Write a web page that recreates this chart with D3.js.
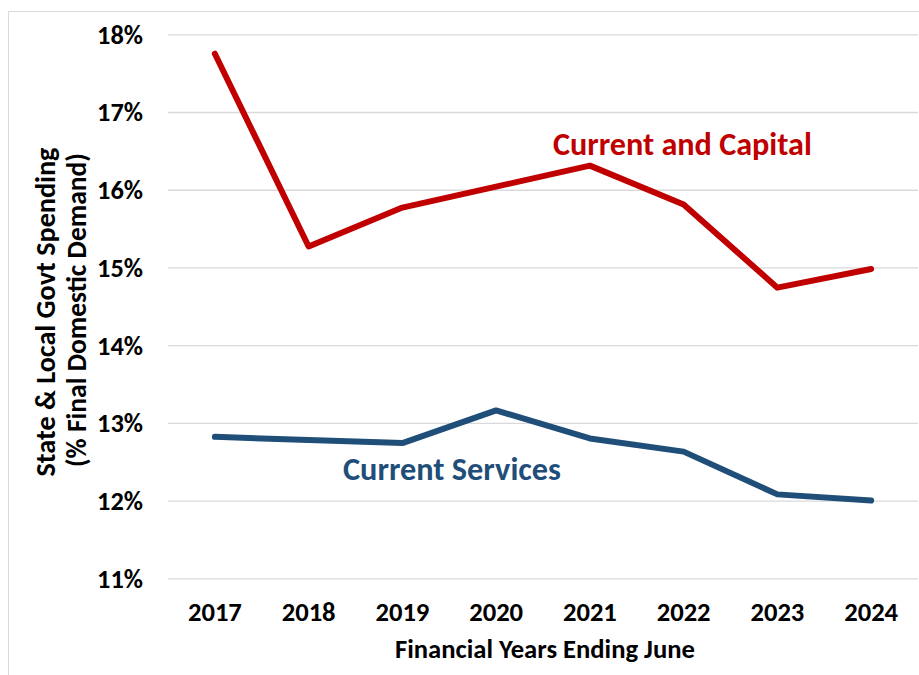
<!DOCTYPE html>
<html>
<head>
<meta charset="utf-8">
<script src="https://cdn.jsdelivr.net/npm/d3@7/dist/d3.min.js"></script>
<style>
  html, body { margin: 0; padding: 0; background: #fff; }
  svg { display: block; font-family: Carlito, Calibri, "Liberation Sans", Arial, sans-serif; font-weight: bold; }
</style>
</head>
<body>
<svg id="chart" width="919" height="675"></svg>
<script>
// Financial years (ending June)
const years = ["2017", "2018", "2019", "2020", "2021", "2022", "2023", "2024"];
// State & local government spending, % of final domestic demand
const currentAndCapital = [17.75, 15.27, 15.77, 16.04, 16.31, 15.81, 14.74, 14.98];
const currentServices   = [12.82, 12.78, 12.74, 13.16, 12.80, 12.63, 12.08, 12.00];
const yTicks = [11, 12, 13, 14, 15, 16, 17, 18];

const svg = d3.select("#chart");
const plot = { left: 168, right: 918, top: 34.3, bottom: 578.3 };

// light outer frame of the chart area
svg.append("rect")
  .attr("x", 8.5).attr("y", 11.5)
  .attr("width", 1000).attr("height", 1000)
  .attr("fill", "none").attr("stroke", "#d9d9d9").attr("stroke-width", 1);

const x = d3.scaleBand().domain(years).range([plot.left, plot.right]);
const y = d3.scaleLinear().domain([11, 18]).range([plot.bottom, plot.top]);
const cx = d => x(d) + x.bandwidth() / 2;

// fit a text element to a target width by adjusting its font size
function fitWidth(sel, target) {
  const node = sel.node();
  const fs = parseFloat(sel.attr("font-size"));
  const w = node.getComputedTextLength();
  if (w > 0) sel.attr("font-size", (fs * target / w).toFixed(2));
  return sel;
}

// horizontal gridlines and y tick labels
const yAxis = d3.axisLeft(y).tickValues(yTicks)
  .tickSize(-(plot.right - plot.left)).tickPadding(25)
  .tickFormat(d => d + "%");
const gy = svg.append("g").attr("transform", `translate(${plot.left},0)`).call(yAxis);
gy.attr("font-family", null).attr("font-size", null);
gy.select(".domain").remove();
gy.selectAll(".tick line").attr("stroke", "#d9d9d9").attr("stroke-width", 1.3);
gy.selectAll(".tick text")
  .attr("fill", "#000").attr("font-size", 26).attr("font-weight", "bold")
  .attr("dy", "0.34em");
gy.selectAll(".tick text").each(function () { fitWidth(d3.select(this), 46); });

// x axis labels
const xAxis = d3.axisBottom(x).tickSize(0).tickPadding(0);
const gx = svg.append("g").attr("transform", `translate(0,${plot.bottom})`).call(xAxis);
gx.attr("font-family", null).attr("font-size", null);
gx.select(".domain").remove();
gx.selectAll(".tick text")
  .attr("fill", "#000").attr("font-size", 26).attr("font-weight", "bold")
  .attr("y", 43).attr("dy", 0);
gx.selectAll(".tick text").each(function () { fitWidth(d3.select(this), 54); });

// axis titles
const xt = svg.append("text").attr("x", 545).attr("y", 658)
  .attr("text-anchor", "middle").attr("font-size", 24).attr("fill", "#000")
  .text("Financial Years Ending June");
fitWidth(xt, 300);

const yt1 = svg.append("text")
  .attr("transform", "translate(55,312) rotate(-90)")
  .attr("text-anchor", "middle").attr("font-size", 24).attr("fill", "#000")
  .text("State & Local Govt Spending");
fitWidth(yt1, 329);
const yt2 = svg.append("text")
  .attr("transform", "translate(86,310) rotate(-90)")
  .attr("text-anchor", "middle").attr("font-size", 24).attr("fill", "#000")
  .text("(% Final Domestic Demand)");
fitWidth(yt2, 314);

// series lines
const line = d3.line().x((d, i) => cx(years[i])).y(d => y(d));
const series = [
  { values: currentAndCapital, color: "#c00000" },
  { values: currentServices, color: "#1f4e79" }
];
svg.selectAll("path.series").data(series).enter().append("path")
  .attr("class", "series")
  .attr("d", d => line(d.values))
  .attr("fill", "none")
  .attr("stroke", d => d.color)
  .attr("stroke-width", 6)
  .attr("stroke-linejoin", "round")
  .attr("stroke-linecap", "round");

// series labels
const l1 = svg.append("text").attr("x", 553).attr("y", 155)
  .attr("font-size", 28).attr("fill", "#c00000")
  .text("Current and Capital");
fitWidth(l1, 259);
const l2 = svg.append("text").attr("x", 343).attr("y", 480)
  .attr("font-size", 28).attr("fill", "#1f4e79")
  .text("Current Services");
fitWidth(l2, 218);
</script>
</body>
</html>
